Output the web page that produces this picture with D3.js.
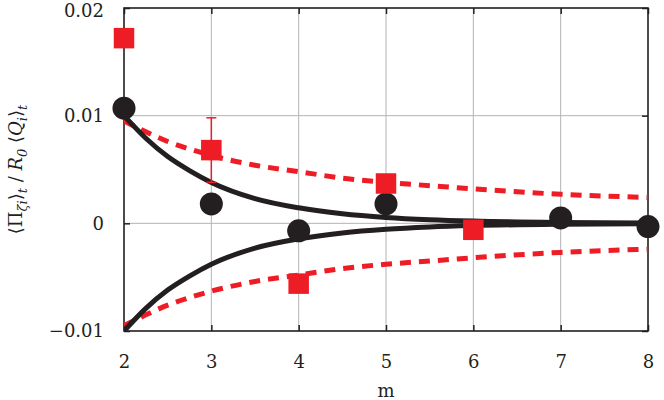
<!DOCTYPE html>
<html><head><meta charset="utf-8">
<script src="https://cdn.jsdelivr.net/npm/d3@7"></script>
<style>body{margin:0;background:#fff} svg text{font-family:"DejaVu Serif",serif;}</style>
</head><body>
<svg id="c" width="664" height="400"></svg>
<script>
const xTicks = [2,3,4,5,6,7,8];
const yTicks = [-0.01, 0, 0.01, 0.02];
const yTickLabels = ["\u22120.01","0","0.01","0.02"];
// red squares (with error bar on m=3)
const squareM = [2,3,4,5,6];
const squareV = [0.0172,0.0068,-0.0056,0.0037,-0.0006];
const errM = [3];
const errLo = [0.0038];
const errHi = [0.0098];
// black circles
const circleM = [2,3,4,5,7,8];
const circleV = [0.0107,0.0018,-0.0007,0.0018,0.0005,-0.0003];
// fitted curves
const curveM = [2,2.25,2.5,2.75,3,3.5,4,4.5,5,5.5,6,7,8];
const blackUpper = [0.0100,0.0079,0.0062,0.0049,0.0038,0.0023,0.00144,0.00089,0.00055,0.00034,0.00021,0.00008,0.00003];
const blackLower = blackUpper.map(v=>-v);
const redUpper = [0.0095,0.0085,0.0076,0.0069,0.0063,0.0054,0.0048,0.0042,0.0038,0.0035,0.0032,0.0027,0.0024];
const redLower = redUpper.map(v=>-v);

const svg = d3.select("#c");
const L=124, R=648, T=8, B=331;
const x = d3.scaleLinear().domain([2,8]).range([L,R]);
const y = d3.scaleLinear().domain([-0.01,0.02]).range([B,T]);
const red = "#ee1c25", blk = "#231f20";

// grid
svg.append("g").selectAll("line").data(xTicks.slice(1,-1)).join("line")
  .attr("x1",d=>x(d)).attr("x2",d=>x(d)).attr("y1",T).attr("y2",B)
  .attr("stroke","#b4b4b8").attr("stroke-width",1);
svg.append("g").selectAll("line").data(yTicks.slice(1,-1)).join("line")
  .attr("y1",d=>y(d)).attr("y2",d=>y(d)).attr("x1",L).attr("x2",R)
  .attr("stroke","#b4b4b8").attr("stroke-width",1);

// axes with inward ticks
const xb = svg.append("g").attr("transform",`translate(0,${B})`)
  .call(d3.axisBottom(x).tickValues(xTicks).tickSize(-6).tickPadding(24).tickFormat(d3.format("d")));
const xt = svg.append("g").attr("transform",`translate(0,${T})`)
  .call(d3.axisTop(x).tickValues(xTicks).tickSize(-6).tickFormat(""));
const yl = svg.append("g").attr("transform",`translate(${L},0)`)
  .call(d3.axisLeft(y).tickValues(yTicks).tickSize(-6).tickPadding(20).tickFormat((d,i)=>yTickLabels[i]));
const yr = svg.append("g").attr("transform",`translate(${R},0)`)
  .call(d3.axisRight(y).tickValues(yTicks).tickSize(-6).tickFormat(""));
[xb,xt,yl,yr].forEach(g=>{
  g.attr("font-family",null);
  g.select(".domain").remove();
  g.selectAll(".tick line").attr("stroke",blk).attr("stroke-width",1.5);
  g.selectAll("text").attr("font-size",18).attr("fill",blk);
});
yl.selectAll(".tick").filter(d=>d===0.02).select("text").attr("dy","0.45em");
svg.append("rect").attr("x",L).attr("y",T).attr("width",R-L).attr("height",B-T)
  .attr("fill","none").attr("stroke",blk).attr("stroke-width",1.6);

// curves
const line = d3.line().x((d,i)=>x(curveM[i])).y(d=>y(d)).curve(d3.curveMonotoneX);
svg.append("clipPath").attr("id","pc").append("rect")
  .attr("x",L).attr("y",T).attr("width",R-L).attr("height",B-T);
const cg = svg.append("g").attr("clip-path","url(#pc)");
[redUpper,redLower].forEach(s=>cg.append("path").attr("d",line(s)).attr("fill","none")
  .attr("stroke",red).attr("stroke-width",5).attr("stroke-dasharray","11,8"));
[blackUpper,blackLower].forEach(s=>cg.append("path").attr("d",line(s)).attr("fill","none")
  .attr("stroke",blk).attr("stroke-width",5));

// circles
svg.append("g").selectAll("circle").data(circleM).join("circle")
  .attr("cx",d=>x(d)).attr("cy",(d,i)=>y(circleV[i])).attr("r",11.5).attr("fill",blk);

// error bars
const eg = svg.append("g").attr("stroke",red).attr("stroke-width",1.5);
errM.forEach((m,i)=>{
  eg.append("line").attr("x1",x(m)).attr("x2",x(m)).attr("y1",y(errLo[i])).attr("y2",y(errHi[i]));
  [errLo[i],errHi[i]].forEach(v=>eg.append("line").attr("x1",x(m)-5).attr("x2",x(m)+5).attr("y1",y(v)).attr("y2",y(v)));
});
// squares
const s=20.5;
svg.append("g").selectAll("rect").data(squareM).join("rect")
  .attr("x",d=>x(d)-s/2).attr("y",(d,i)=>y(squareV[i])-s/2).attr("width",s).attr("height",s).attr("fill",red);

// axis labels
svg.append("text").attr("x",x(5)).attr("y",397).attr("text-anchor","middle")
  .attr("font-size",18).attr("fill",blk).text("m");
const yt = svg.append("text").attr("transform",`translate(22,${(T+B)/2}) rotate(-90)`)
  .attr("text-anchor","middle").attr("font-size",18).attr("fill",blk);
const parts = [["\u27E8\u03A0",null],["\u03B6i","sub"],["\u27E9",null],["t","sub"],[" / ",null],["R","it"],["0","sub"],[" \u27E8",null],["Q","it"],["i","sub"],["\u27E9",null],["t","sub"]];
parts.forEach(([t,k],idx)=>{
  const ts = yt.append("tspan").text(t);
  if(k==="sub"){ ts.attr("font-size",13).attr("font-style","italic").attr("dy",5); }
  else if(k==="it"){ ts.attr("font-style","italic"); }
  const prev = idx>0 ? parts[idx-1][1] : null;
  if(prev==="sub" && k!=="sub") ts.attr("dy",-5);
});
</script>
</body></html>
